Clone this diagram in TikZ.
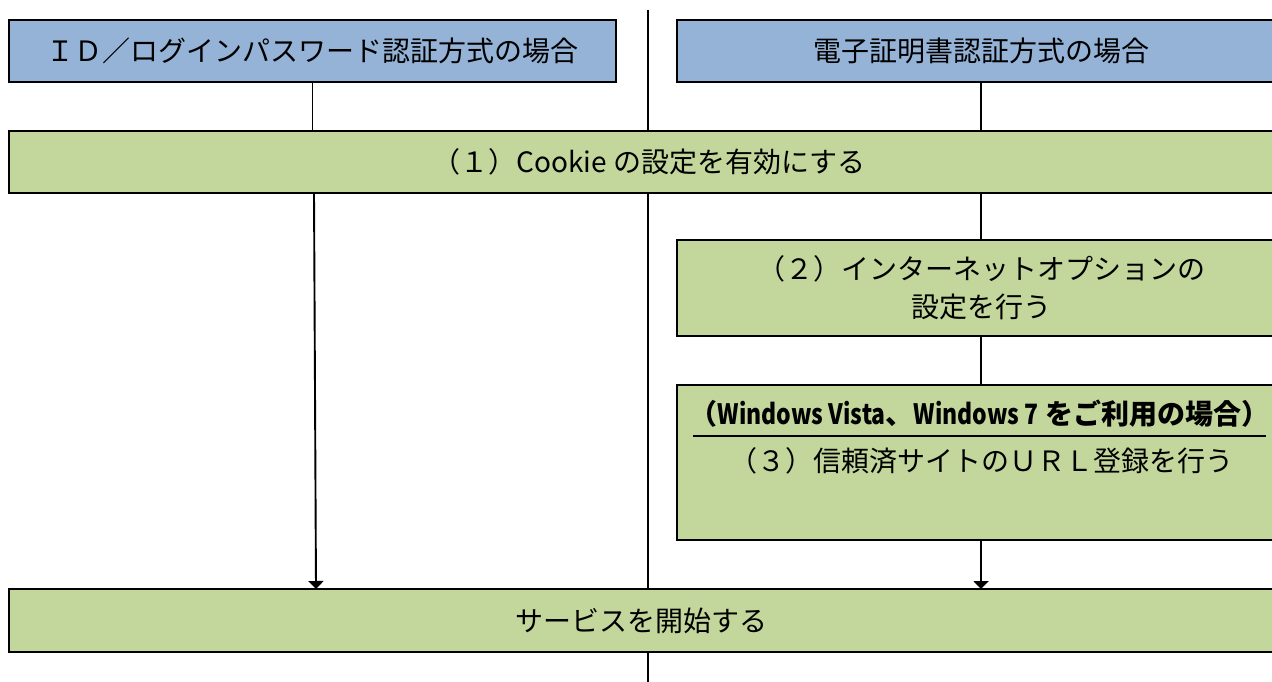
\documentclass[tikz,border=0pt]{standalone}
\usepackage{fontspec}
\usepackage{graphicx}
\setmainfont{Noto Sans CJK JP}
\usetikzlibrary{arrows.meta}
\definecolor{bluebox}{RGB}{149,179,215}
\definecolor{greenbox}{RGB}{195,214,155}
\begin{document}
\begin{tikzpicture}[x=1pt,y=-1pt,
  box/.style={draw=black,line width=2pt,inner sep=0pt,outer sep=0pt,
    font=\fontsize{28}{38}\selectfont,align=center},
  bbox/.style={box,fill=bluebox},
  gbox/.style={box,fill=greenbox},
  txt/.style={inner sep=0pt,font=\fontsize{28}{38}\selectfont},
  conn/.style={line width=1.9pt},
  arr/.style={line width=1.9pt,-{Triangle[width=15pt,length=8pt]}}]
\useasboundingbox (0,0) rectangle (1272,682);
\fill[white] (0,0) rectangle (1272,682);
\begin{scope}
\clip (0,0) rectangle (1272,682);
% centre divider
\coordinate (ctop) at (648,10);
\coordinate (cbot) at (648,684);
\draw[conn] (ctop) -- (cbot);
% boxes
\node[bbox,minimum width=607,minimum height=62] (blueL) at (312.5,51)
  {ＩＤ／ログインパスワード認証方式の場合};
\node[bbox,minimum width=608,minimum height=62] (blueR) at (981,51)
  {電子証明書認証方式の場合};
\node[gbox,minimum width=1276,minimum height=62] (b1) at (647,162) {};
\node[txt] (t1) at (649,162) {（１）Cookie の設定を有効にする};
\node[gbox,minimum width=608,minimum height=96] (b2) at (981,288)
  {（２）インターネットオプションの\\設定を行う};
\node[gbox,minimum width=608,minimum height=155] (b3) at (981,462.5) {};
\node[txt,font=\fontsize{28}{38}\selectfont\bfseries] (t3a) at (979.5,414)
  {（\scalebox{0.82}[1]{Windows Vista}、\scalebox{0.82}[1]{Windows 7} をご利用の場合）};
\coordinate (ula) at (693,436);
\coordinate (ulb) at (1266,436);
\draw[line width=1.8pt] (ula) -- (ulb);
\node[txt] (t3b) at (981,461) {（３）信頼済サイトのＵＲＬ登録を行う};
\node[gbox,minimum width=1276,minimum height=63] (b4) at (647,620.5) {};
\node[txt] (t4) at (641,620.5) {サービスを開始する};
% connectors
\coordinate (xl1) at (314,0);
\coordinate (xl2) at (316,0);
\draw[conn] (blueL.south) -- (blueL.south |- b1.north);
\draw[arr] (b1.south -| xl1) -- (b4.north -| xl2);
\draw[conn] (blueR.south) -- (blueR.south |- b1.north);
\draw[conn] (b1.south -| b2.north) -- (b2.north);
\draw[conn] (b2.south) -- (b3.north);
\draw[arr] (b3.south) -- (b3.south |- b4.north);
\end{scope}
\end{tikzpicture}
\end{document}
